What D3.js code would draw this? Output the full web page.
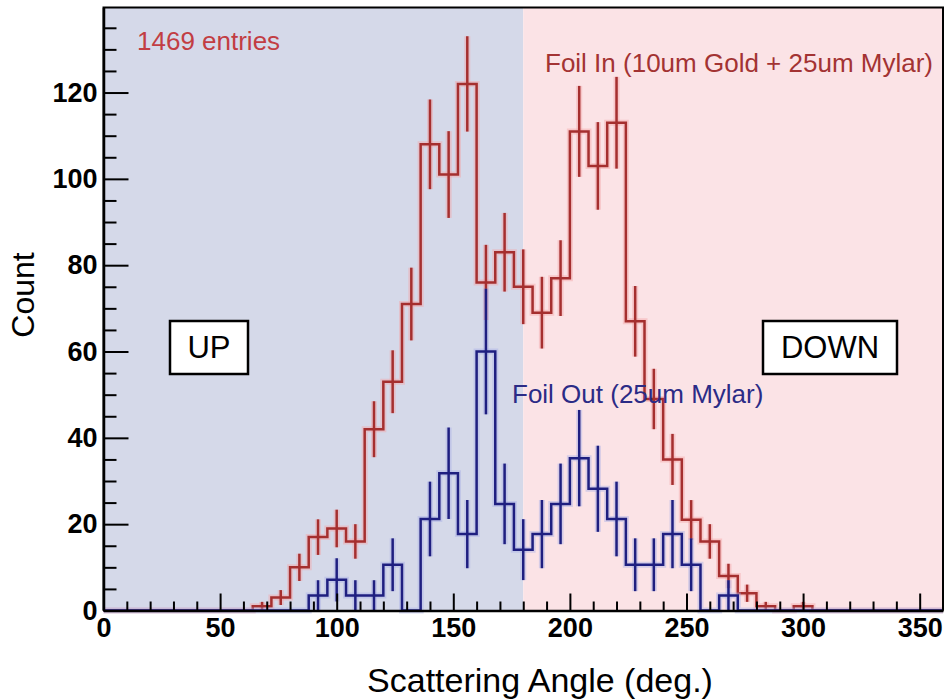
<!DOCTYPE html>
<html>
<head>
<meta charset="utf-8">
<script src="https://cdn.jsdelivr.net/npm/d3@7"></script>
<style>
  body { margin: 0; background: #fff; }
  svg { display: block; font-family: "Liberation Sans", Arial, Helvetica, sans-serif; }
</style>
</head>
<body>
<div id="chart"></div>
<script>
// Histogram: 45 bins of 8 deg from 0 to 360
const binWidth = 8;
const binStarts = d3.range(0, 360, binWidth);

// Foil In (10um Gold + 25um Mylar), raw counts per bin
const foilIn = [
  0, 0, 0, 0, 0, 0, 0, 0, 1, 3,
  10, 17, 19, 16, 42, 53, 71, 108, 101, 122,
  76, 83, 75, 69, 77, 111, 103, 113, 67, 49,
  35, 21, 16, 8, 4, 1, 0, 1, 0, 0,
  0, 0, 0, 0, 0
];

// Foil Out (25um Mylar), normalised values per bin
const foilOut = [
  0, 0, 0, 0, 0, 0, 0, 0, 0, 0,
  0, 3.5, 7.1, 3.5, 3.5, 10.6, 0, 21.2, 31.8, 17.7,
  60.0, 24.7, 14.1, 17.7, 24.7, 35.3, 28.2, 21.2, 10.6, 10.6,
  17.7, 10.6, 0, 3.5, 0, 0, 0, 0, 0, 0,
  0, 0, 0, 0, 0
];
// weight of one foil-out event (error = sqrt(value * weight))
const foilOutWeight = 3.53;

const xMajor = [0, 50, 100, 150, 200, 250, 300, 350];
const yMajor = [0, 20, 40, 60, 80, 100, 120];

// Chart dimensions
const width = 944;
const height = 700;
const plotL = 103.5, plotR = 943, plotT = 7.5, plotB = 610.5;

const svg = d3.select("#chart")
    .append("svg")
    .attr("width", width)
    .attr("height", height);

// Scales
const xScale = d3.scaleLinear().domain([0, 360]).range([plotL, plotR]);
const yScale = d3.scaleLinear().domain([0, 139.7]).range([plotB, plotT]);

// Regions: UP (0-180) and DOWN (180-360)
svg.append("rect")
    .attr("x", xScale(0)).attr("y", plotT)
    .attr("width", xScale(180) - xScale(0)).attr("height", plotB - plotT)
    .attr("fill", "#d5d9e9");
svg.append("rect")
    .attr("x", xScale(180)).attr("y", plotT)
    .attr("width", xScale(360) - xScale(180)).attr("height", plotB - plotT)
    .attr("fill", "#fbe3e6");

const stepLine = d3.line()
    .x(d => xScale(d[0]))
    .y(d => yScale(d[1]))
    .curve(d3.curveStepAfter);

function drawHist(values, weight, color, halo) {
    const pts = binStarts.map((b, i) => [b, values[i]]);
    pts.push([360, values[values.length - 1]]);
    const g = svg.append("g");
    const bars = binStarts
        .map((b, i) => ({ c: b + binWidth / 2, v: values[i], e: Math.sqrt(values[i] * weight) }))
        .filter(d => d.v > 0);

    // soft halo like the original rendering
    g.append("path").attr("d", stepLine(pts))
        .attr("fill", "none").attr("stroke", halo).attr("stroke-width", 6).attr("opacity", 0.45);
    g.selectAll(".halo").data(bars).enter().append("line")
        .attr("x1", d => xScale(d.c)).attr("x2", d => xScale(d.c))
        .attr("y1", d => yScale(Math.max(0, d.v - d.e))).attr("y2", d => yScale(d.v + d.e))
        .attr("stroke", halo).attr("stroke-width", 6).attr("opacity", 0.45);

    g.append("path").attr("d", stepLine(pts))
        .attr("fill", "none").attr("stroke", color).attr("stroke-width", 2.5);
    g.selectAll(".err").data(bars).enter().append("line")
        .attr("x1", d => xScale(d.c)).attr("x2", d => xScale(d.c))
        .attr("y1", d => yScale(Math.max(0, d.v - d.e))).attr("y2", d => yScale(d.v + d.e))
        .attr("stroke", color).attr("stroke-width", 2.5);
}

drawHist(foilIn, 1, "#a52f2f", "#f3a3a6");
drawHist(foilOut, foilOutWeight, "#1f1f80", "#a9afe6");

// Labels
svg.append("text").attr("x", 137).attr("y", 50)
    .attr("font-size", 26).attr("fill", "#c23d43").text("1469 entries");
svg.append("text").attr("x", 545).attr("y", 72)
    .attr("font-size", 26).attr("fill", "#a33333").text("Foil In (10um Gold + 25um Mylar)");
svg.append("text").attr("x", 512).attr("y", 403)
    .attr("font-size", 26).attr("fill", "#2b2b86").text("Foil Out (25um Mylar)");

// UP / DOWN boxes
[{ t: "UP", x: 170, w: 78 }, { t: "DOWN", x: 763, w: 134 }].forEach(b => {
    svg.append("rect").attr("x", b.x).attr("y", 321).attr("width", b.w).attr("height", 53)
        .attr("fill", "#fff").attr("stroke", "#000").attr("stroke-width", 2.5);
    svg.append("text").attr("x", b.x + b.w / 2).attr("y", 358)
        .attr("text-anchor", "middle").attr("font-size", 31).text(b.t);
});

// Frame
svg.append("path")
    .attr("d", `M${plotL},${plotB}V${plotT}H${plotR}V${plotB}`)
    .attr("fill", "none").attr("stroke", "#000").attr("stroke-width", 2);

// X-Axis (ticks point inward)
const xMinor = d3.range(0, 361, 10).filter(v => !xMajor.includes(v));
svg.append("g")
    .attr("transform", `translate(0, ${plotB})`)
    .call(d3.axisBottom(xScale).tickValues(xMinor).tickSizeInner(-9).tickSizeOuter(0).tickFormat(""))
    .call(g => g.select(".domain").remove());
const xAxis = svg.append("g")
    .attr("id", "x-axis")
    .attr("transform", `translate(0, ${plotB})`)
    .call(d3.axisBottom(xScale).tickValues(xMajor).tickSizeInner(-17).tickSizeOuter(0).tickPadding(7));

// Y-Axis
const yMinor = d3.range(0, 136, 5).filter(v => !yMajor.includes(v));
svg.append("g")
    .attr("transform", `translate(${plotL}, 0)`)
    .call(d3.axisLeft(yScale).tickValues(yMinor).tickSizeInner(-13).tickSizeOuter(0).tickFormat(""))
    .call(g => g.select(".domain").remove());
const yAxis = svg.append("g")
    .attr("id", "y-axis")
    .attr("transform", `translate(${plotL}, 0)`)
    .call(d3.axisLeft(yScale).tickValues(yMajor).tickSizeInner(-25).tickSizeOuter(0).tickPadding(6));

svg.selectAll(".tick line").attr("stroke", "#000").attr("stroke-width", 2);
svg.selectAll(".domain").attr("stroke", "#000").attr("stroke-width", 2.5);
[xAxis, yAxis].forEach(a => a.selectAll("text")
    .attr("font-family", '"Liberation Sans", Arial, sans-serif')
    .attr("font-size", 27).attr("font-weight", "bold").attr("fill", "#000"));

// Axis titles
svg.append("text").attr("x", 540).attr("y", 692)
    .attr("text-anchor", "middle").attr("font-size", 34).text("Scattering Angle (deg.)");
svg.append("text")
    .attr("transform", "translate(34, 295) rotate(-90)")
    .attr("text-anchor", "middle").attr("font-size", 32).text("Count");
</script>
</body>
</html>
